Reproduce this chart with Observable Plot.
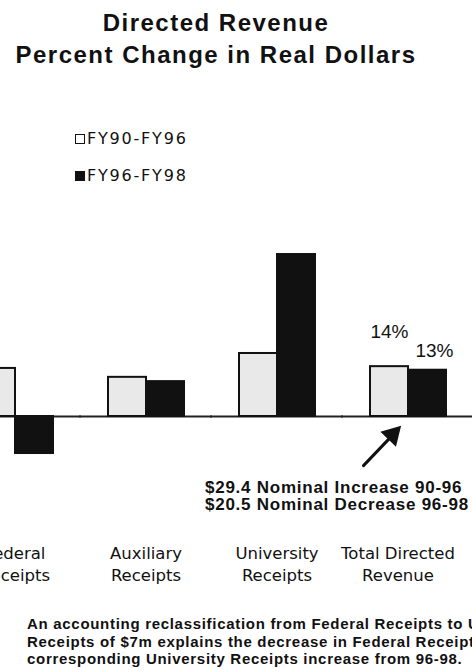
<!DOCTYPE html>
<html>
<head>
<meta charset="utf-8">
<script src="https://cdn.jsdelivr.net/npm/d3@7"></script>
<script src="https://cdn.jsdelivr.net/npm/@observablehq/plot@0.6"></script>
<style>
  html, body { margin: 0; padding: 0; background: #fff; }
  body { width: 472px; height: 672px; position: relative; overflow: hidden;
         font-family: "Liberation Sans", Arial, sans-serif; color: #111; }
  #title { position: absolute; left: 0; width: 432px; top: 7px; text-align: center;
           font-weight: bold; font-size: 24px; letter-spacing: 1.5px; line-height: 32px; }
  .leg { position: absolute; left: 75px; height: 20px; line-height: 20px;
         font-family: "DejaVu Sans", sans-serif; font-size: 16px; letter-spacing: 1.8px;
         display: flex; align-items: center; white-space: nowrap; }
  .sw { width: 8px; height: 8px; border: 1.5px solid #111; margin-right: 2px; box-sizing: content-box; }
  #chart { position: absolute; left: -78px; top: 200px; width: 578px; height: 400px; }
  #chart svg { max-width: none !important; }
  .line { position: absolute; white-space: nowrap; }
  .note { left: 205px; font-weight: bold; font-size: 17px; line-height: 17px; letter-spacing: 0.75px; }
  .foot { left: 27px; font-weight: bold; font-size: 15px; line-height: 17.5px; letter-spacing: 0.7px; }
</style>
</head>
<body>
<div id="title">Directed Revenue<br>Percent Change in Real Dollars</div>
<div id="legend"></div>
<div id="chart"></div>
<div id="notes"></div>
<script>
// ---- data ----
const categories = ["Federal\nReceipts", "Auxiliary\nReceipts", "University\nReceipts", "Total Directed\nRevenue"];
const periods = ["FY90-FY96", "FY96-FY98"];
const change9096 = [13.5, 11.0, 17.7, 14];
const change9698 = [-10.4, 9.8, 45.5, 13];
const periodColors = ["#e9e9e9", "#111111"];
const labeledCategory = "Total Directed\nRevenue";
const arrowFrom = -13.8;
const arrowTo = -2.6;
const noteLines = ["$29.4 Nominal Increase 90-96", "$20.5 Nominal Decrease 96-98"];
const footLines = [
  "An accounting reclassification from Federal Receipts to University",
  "Receipts of $7m explains the decrease in Federal Receipts and the",
  "corresponding University Receipts increase from 96-98."
];

// ---- tables built from the arrays ----
const rows = categories.flatMap((c, i) => [
  {category: c, period: periods[0], value: change9096[i]},
  {category: c, period: periods[1], value: change9698[i]}
]);
const cats = categories.map(c => ({category: c}));
const arrowNote = [{category: labeledCategory, from: arrowFrom, to: arrowTo}];

// ---- legend ----
const legend = document.getElementById("legend");
periods.forEach((p, i) => {
  const row = document.createElement("div");
  row.className = "leg";
  row.style.top = (i === 0 ? 128.5 : 165.5) + "px";
  const sw = document.createElement("span");
  sw.className = "sw";
  sw.style.background = i === 0 ? "#fff" : periodColors[1];
  row.appendChild(sw);
  row.appendChild(document.createTextNode(p));
  legend.appendChild(row);
});

// ---- chart ----
const textFont = {fontFamily: "Liberation Sans, Arial, sans-serif", fill: "#111"};
const labelFont = {fontFamily: "DejaVu Sans, sans-serif", fontSize: 16.5, lineHeight: 1.33, fill: "#111"};
const chart = Plot.plot({
  width: 578,
  height: 400,
  marginTop: 0, marginRight: 0, marginBottom: 0, marginLeft: 0,
  fx: {domain: categories, paddingInner: 0.412, paddingOuter: 0.412, axis: null},
  x: {domain: periods, padding: 0, axis: null},
  y: {domain: [-20, 50], range: [287.2, 38], axis: null},
  color: {domain: periods, range: periodColors},
  marks: [
    Plot.ruleY([0], {stroke: "#222", strokeWidth: 2, insetLeft: -28, insetRight: -28}),
    Plot.barY(rows, {fx: "category", x: "period", y: "value", fill: "period", stroke: "#111", strokeWidth: 2}),
    Plot.text(rows.filter(d => d.category === labeledCategory && d.period === periods[0]),
      {fx: "category", x: "period", y: "value", text: d => `${d.value}%`, dy: -35, fontSize: 19, ...textFont}),
    Plot.text(rows.filter(d => d.category === labeledCategory && d.period === periods[1]),
      {fx: "category", x: "period", y: "value", text: d => `${d.value}%`, dy: -19, dx: 7, fontSize: 19, ...textFont}),
    Plot.arrow(arrowNote, {fx: "category", x1: () => periods[0], x2: () => periods[1], y1: "from", y2: "to",
      dx: -26, stroke: "#111", strokeWidth: 3, headLength: 0, insetEnd: 6}),
    Plot.dot(arrowNote, {fx: "category", x: () => periods[1], y: "to", dx: -35, dy: 9,
      symbol: "triangle", r: 8, rotate: 44, fill: "#111", stroke: "none"}),
    Plot.text(cats.filter(d => d.category !== labeledCategory),
      {fx: "category", text: "category", frameAnchor: "top", lineAnchor: "top", dy: 342.5, ...labelFont}),
    Plot.text(cats.filter(d => d.category === labeledCategory),
      {fx: "category", text: "category", frameAnchor: "top", lineAnchor: "top", dy: 342.5, dx: -10, ...labelFont})
  ]
});
document.getElementById("chart").appendChild(chart);

// ---- annotation and footnote ----
const notes = document.getElementById("notes");
noteLines.forEach((t, i) => {
  const d = document.createElement("div");
  d.className = "line note";
  d.style.top = (478.6 + i * 17) + "px";
  d.textContent = t;
  notes.appendChild(d);
});
footLines.forEach((t, i) => {
  const d = document.createElement("div");
  d.className = "line foot";
  d.style.top = (615 + i * 17.5) + "px";
  d.textContent = t;
  notes.appendChild(d);
});
</script>
</body>
</html>
